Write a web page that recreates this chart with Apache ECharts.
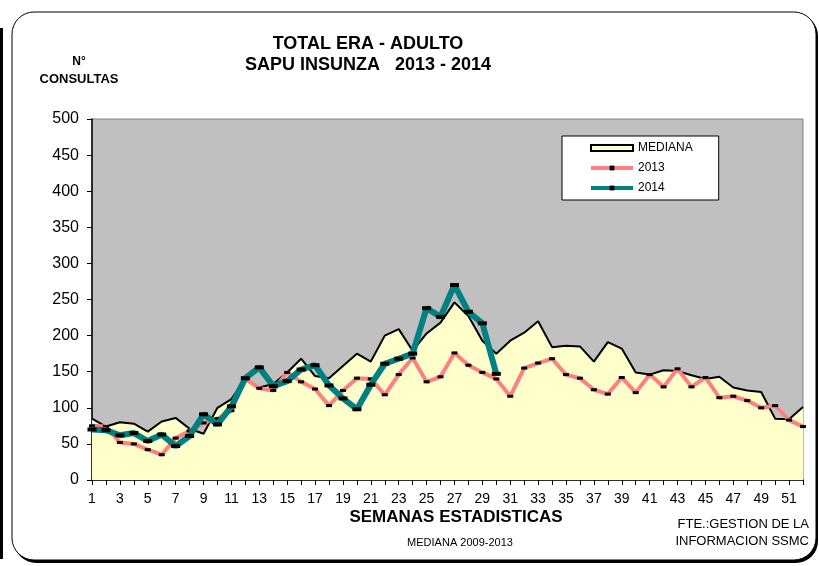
<!DOCTYPE html>
<html>
<head>
<meta charset="utf-8">
<script src="https://cdn.jsdelivr.net/npm/echarts@6/dist/echarts.min.js"></script>
<style>
  html, body { margin: 0; padding: 0; background: #fff; }
  #main { width: 819px; height: 566px; }
</style>
</head>
<body>
<div id="main"></div>
<script>
// semanas estadisticas 1..52
var semanas = [];
for (var i = 1; i <= 52; i++) semanas.push(String(i));

var mediana = [85, 74, 80, 78, 67, 81, 86, 71, 64, 100, 112, 140, 128, 133, 149, 168, 144, 141, 158, 175,
               164, 200, 209, 179, 203, 218, 246, 227, 193, 175, 193, 204, 220, 184, 186, 185, 164, 191, 182, 149,
               146, 152, 151, 145, 140, 143, 128, 124, 122, 85, 84, 101];
var anio2013 = [75, 74, 52, 50, 42, 35, 58, 68, 79, 85, 96, 140, 127, 124, 149, 136, 126, 103, 124, 141,
                140, 118, 146, 169, 136, 143, 176, 159, 149, 140, 116, 155, 162, 168, 146, 141, 125, 119, 142, 121,
                146, 129, 154, 129, 142, 114, 116, 110, 100, 103, 83, 74];
var anio2014 = [70, 69, 62, 65, 54, 63, 47, 61, 91, 77, 102, 141, 156, 130, 137, 153, 159, 131, 113, 98,
                132, 161, 168, 175, 238, 226, 270, 233, 217, 147];

var fuente = 'Liberation Sans, Arial, sans-serif';

var chart = echarts.init(document.getElementById('main'));
var option = {
    animation: false,
    backgroundColor: '#fff',
    textStyle: { fontFamily: fuente },
    grid: {
        left: 92, right: 16, top: 119, bottom: 86,
        show: true,
        backgroundColor: '#c0c0c0',
        borderColor: '#808080',
        borderWidth: 1
    },
    legend: {
        orient: 'vertical',
        left: 562, top: 136,
        backgroundColor: '#fff',
        borderColor: '#000',
        borderWidth: 1,
        borderRadius: 0,
        padding: [6, 26, 6, 27],
        itemGap: 8,
        itemWidth: 42,
        itemHeight: 6,
        textStyle: { fontSize: 12, color: '#000', fontFamily: fuente },
        data: [
            { name: 'MEDIANA', icon: 'rect', itemStyle: { color: '#ffffcc', borderColor: '#000', borderWidth: 2 } },
            { name: '2013', lineStyle: { width: 4 } },
            { name: '2014', lineStyle: { width: 4 } }
        ]
    },
    xAxis: {
        type: 'category',
        data: semanas,
        boundaryGap: false,
        axisLine: { lineStyle: { color: '#000', width: 1.5 } },
        axisTick: { interval: 0, length: 5, lineStyle: { color: '#000' } },
        axisLabel: { interval: 1, fontSize: 14, color: '#000', margin: 12 },
        splitLine: { show: false }
    },
    yAxis: {
        type: 'value',
        min: 0, max: 500, interval: 50,
        axisLine: { show: true, lineStyle: { color: '#000', width: 1.5 } },
        axisTick: { show: true, length: 5, lineStyle: { color: '#000' } },
        axisLabel: { fontSize: 16, color: '#000', margin: 13 },
        splitLine: { show: false }
    },
    series: [
        {
            name: 'MEDIANA',
            type: 'line',
            data: mediana,
            symbol: 'none',
            lineStyle: { color: '#000', width: 2 },
            itemStyle: { color: '#ffffcc', borderColor: '#000' },
            areaStyle: { color: '#ffffcc', opacity: 1 },
            z: 2
        },
        {
            name: '2013',
            type: 'line',
            data: anio2013,
            symbol: 'rect',
            symbolSize: [6, 3],
            lineStyle: { color: '#ff8080', width: 4 },
            itemStyle: { color: '#000' },
            z: 3
        },
        {
            name: '2014',
            type: 'line',
            data: anio2014,
            symbol: 'rect',
            symbolSize: [9, 4],
            lineStyle: { color: '#008080', width: 6 },
            itemStyle: { color: '#000' },
            z: 4
        }
    ],
    graphic: [
        { type: 'rect', shape: { x: 0, y: 28, width: 3, height: 531 }, style: { fill: '#000' } },
        { type: 'rect', z: -2, shape: { x: 14, y: 14, width: 804, height: 549, r: 22 }, style: { fill: '#000' } },
        { type: 'rect', z: -1, shape: { x: 12, y: 12, width: 804, height: 548, r: 22 }, style: { fill: '#fff', stroke: '#000', lineWidth: 1 } },
        { type: 'text', x: 368, y: 44, style: { text: 'TOTAL ERA - ADULTO', font: 'bold 18px ' + fuente, fill: '#000', align: 'center', verticalAlign: 'middle' } },
        { type: 'text', x: 368, y: 65, style: { text: 'SAPU INSUNZA   2013 - 2014', font: 'bold 18px ' + fuente, fill: '#000', align: 'center', verticalAlign: 'middle' } },
        { type: 'text', x: 79, y: 62, style: { text: 'N°', font: 'bold 12px ' + fuente, fill: '#000', align: 'center', verticalAlign: 'middle' } },
        { type: 'text', x: 79, y: 79, style: { text: 'CONSULTAS', font: 'bold 13px ' + fuente, fill: '#000', align: 'center', verticalAlign: 'middle' } },
        { type: 'text', x: 456, y: 517, style: { text: 'SEMANAS ESTADISTICAS', font: 'bold 17px ' + fuente, fill: '#000', align: 'center', verticalAlign: 'middle' } },
        { type: 'text', x: 460, y: 543, style: { text: 'MEDIANA 2009-2013', font: '11px ' + fuente, fill: '#000', align: 'center', verticalAlign: 'middle' } },
        { type: 'text', x: 809, y: 524, style: { text: 'FTE.:GESTION DE LA', font: '13px ' + fuente, fill: '#000', align: 'right', verticalAlign: 'middle' } },
        { type: 'text', x: 809, y: 541, style: { text: 'INFORMACION SSMC', font: '13px ' + fuente, fill: '#000', align: 'right', verticalAlign: 'middle' } }
    ]
};
chart.setOption(option);
</script>
</body>
</html>
